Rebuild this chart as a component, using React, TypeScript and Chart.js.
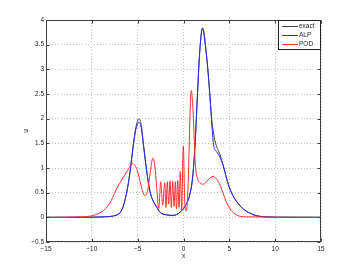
import React, { useEffect, useRef } from "react";
import { Chart, registerables } from "chart.js";

Chart.register(...registerables);

const exactX = [-15, -10, -9, -8, -7.6, -6.9, -6.55, -6.2, -5.85, -5.5, -5.2, -4.85, -4.6, -4.35, -4.0, -3.65, -3.3, -2.9, -2.55, -1.85, -1.1, -0.4, 0.15, 0.7, 1.0, 1.25, 1.5, 1.75, 2.05, 2.25, 2.4, 2.65, 2.9, 3.1, 3.44, 3.98, 4.34, 4.71, 5.07, 5.62, 6.35, 7.07, 8.0, 9.0, 10, 15];
const exactU = [0, 0.003, 0.008, 0.018, 0.03, 0.1, 0.24, 0.5, 0.9, 1.43, 1.82, 2.0, 1.86, 1.45, 0.92, 0.52, 0.33, 0.2, 0.1, 0.05, 0.04, 0.1, 0.22, 0.47, 0.82, 1.45, 2.4, 3.3, 3.82, 3.74, 3.5, 3.0, 2.4, 1.95, 1.55, 1.27, 1.05, 0.78, 0.57, 0.37, 0.2, 0.1, 0.03, 0.01, 0.003, 0];

const alpX = [-15, -10, -9, -8, -7.6, -6.9, -6.55, -6.2, -5.85, -5.5, -5.2, -4.85, -4.6, -4.35, -4.0, -3.65, -3.3, -2.9, -2.55, -1.85, -1.1, -0.4, 0.15, 0.7, 1.0, 1.25, 1.5, 1.75, 2.08, 2.34, 2.64, 2.89, 3.1, 3.3, 3.62, 3.98, 4.34, 4.71, 5.07, 5.62, 6.35, 7.07, 8.0, 9.0, 10, 15];
const alpU = [0, 0.003, 0.008, 0.018, 0.03, 0.1, 0.24, 0.5, 0.9, 1.42, 1.78, 1.93, 1.8, 1.43, 0.92, 0.52, 0.33, 0.2, 0.1, 0.05, 0.04, 0.1, 0.22, 0.47, 0.82, 1.45, 2.4, 3.3, 3.84, 3.54, 3.04, 2.45, 1.85, 1.45, 1.33, 1.22, 1.04, 0.78, 0.57, 0.37, 0.2, 0.1, 0.03, 0.01, 0.003, 0];

const podX = [-15, -11, -10, -9.5, -9, -8.5, -8, -7.5, -7, -6.5, -6, -5.6, -5.3, -5.0, -4.7, -4.4, -4.2, -3.9, -3.6, -3.35, -3.1, -2.9, -2.7, -2.49, -2.27, -2.05, -1.91, -1.77, -1.62, -1.47, -1.33, -1.18, -1.03, -0.89, -0.76, -0.63, -0.49, -0.35, -0.2, -0.02, 0.15, 0.3, 0.45, 0.6, 0.75, 0.85, 1.0, 1.1, 1.3, 1.5, 1.8, 2.15, 2.5, 2.9, 3.25, 3.6, 4.0, 4.3, 4.7, 5.2, 5.6, 6.0, 7, 15];
const podU = [0, 0.01, 0.03, 0.06, 0.1, 0.18, 0.3, 0.5, 0.68, 0.83, 0.98, 1.09, 1.05, 0.93, 0.7, 0.5, 0.44, 0.55, 0.95, 1.2, 1.0, 0.55, 0.18, 0.72, 0.25, 0.7, 0.2, 0.72, 0.27, 0.74, 0.2, 0.73, 0.22, 0.72, 0.17, 0.75, 0.2, 0.93, 0.15, 1.45, 0.25, 0.13, 0.4, 1.3, 2.3, 2.57, 2.3, 1.9, 1.05, 0.8, 0.7, 0.67, 0.72, 0.8, 0.83, 0.78, 0.65, 0.5, 0.3, 0.14, 0.07, 0.03, 0.01, 0];

const seriesLabels = ["exact", "ALP", "POD"];
const xTicksMin = -15, xTicksMax = 15, xStep = 5;
const yTicksMin = -0.5, yTicksMax = 4, yStep = 0.5;

const FONT = "Liberation Sans, Arial, Helvetica, sans-serif";
const fmt = (v: number) => (v < 0 ? "\u2212" + Math.abs(v) : String(v));

const framePlugin = {
  id: "frame",
  afterDatasetsDraw(chart: any) {
    const { ctx, chartArea: a, scales } = chart;
    ctx.save();
    ctx.strokeStyle = "#404040";
    ctx.lineWidth = 1;
    const L = Math.round(a.left) + 0.5, R = Math.round(a.right) - 0.5;
    const T = Math.round(a.top) + 0.5, B = Math.round(a.bottom) - 0.5;
    ctx.strokeRect(L, T, R - L, B - T);
    ctx.beginPath();
    scales.x.ticks.forEach((t: any) => {
      const p = Math.round(scales.x.getPixelForValue(t.value)) + 0.5;
      ctx.moveTo(p, B); ctx.lineTo(p, B - 3);
      ctx.moveTo(p, T); ctx.lineTo(p, T + 3);
    });
    scales.y.ticks.forEach((t: any) => {
      const p = Math.round(scales.y.getPixelForValue(t.value)) + 0.5;
      ctx.moveTo(L, p); ctx.lineTo(L + 3, p);
      ctx.moveTo(R, p); ctx.lineTo(R - 3, p);
    });
    ctx.stroke();

    // legend
    const bx = 278.5, by = 20.5, bw = 42, bh = 29;
    ctx.fillStyle = "#ffffff";
    ctx.fillRect(bx, by, bw, bh);
    ctx.strokeStyle = "#222222";
    ctx.strokeRect(bx, by, bw, bh);
    ctx.font = "6.5px " + FONT;
    ctx.textBaseline = "middle";
    ctx.textAlign = "left";
    chart.data.datasets.forEach((ds: any, i: number) => {
      const yy = 26 + i * 9;
      ctx.strokeStyle = ds.borderColor;
      ctx.lineWidth = 1;
      ctx.beginPath();
      ctx.moveTo(282, yy + 0.5);
      ctx.lineTo(298, yy + 0.5);
      ctx.stroke();
      ctx.fillStyle = "#222";
      ctx.fillText(ds.label, 299, yy + 0.5);
    });
    ctx.restore();
  },
};

export default function App() {
  const ref = useRef<HTMLCanvasElement>(null);
  useEffect(() => {
    if (!ref.current) return;
    const mk = (xs: number[], ys: number[]) => xs.map((x, i) => ({ x, y: ys[i] }));
    const chart = new Chart(ref.current, {
      type: "line",
      data: {
        datasets: [
          { label: seriesLabels[0], data: mk(exactX, exactU), borderColor: "rgb(70,70,70)", borderWidth: 1, pointRadius: 0, cubicInterpolationMode: "monotone", order: 3 },
          { label: seriesLabels[1], data: mk(alpX, alpU), borderColor: "rgb(40,40,235)", borderWidth: 1, pointRadius: 0, cubicInterpolationMode: "monotone", order: 2 },
          { label: seriesLabels[2], data: mk(podX, podU), borderColor: "rgb(255,45,45)", borderWidth: 1, pointRadius: 0, cubicInterpolationMode: "monotone", order: 1 },
        ],
      },
      options: {
        responsive: false,
        animation: false,
        devicePixelRatio: 1,
        layout: { padding: { left: 20, top: 20, right: 33, bottom: 11 } },
        plugins: { legend: { display: false }, tooltip: { enabled: false } },
        scales: {
          x: {
            type: "linear",
            min: xTicksMin,
            max: xTicksMax,
            grid: { color: "#c4c4c4", drawTicks: false, lineWidth: 1 },
            border: { display: false, dash: [1, 2] },
            ticks: { stepSize: xStep, autoSkip: false, maxRotation: 0, padding: 3, color: "#222", font: { family: FONT, size: 6.5 }, callback: (v: any) => fmt(Number(v)) },
            title: { display: true, text: "x", color: "#222", font: { family: FONT, size: 6.5 }, padding: { top: 0, bottom: 2 } },
            afterFit: (s: any) => { s.height = 20; },
          },
          y: {
            type: "linear",
            min: yTicksMin,
            max: yTicksMax,
            grid: { color: "#c4c4c4", drawTicks: false, lineWidth: 1 },
            border: { display: false, dash: [1, 2] },
            ticks: { stepSize: yStep, autoSkip: false, padding: 2, color: "#222", font: { family: FONT, size: 6.5 }, callback: (v: any) => fmt(Number(v)) },
            title: { display: true, text: "u", color: "#222", font: { family: FONT, size: 6.5 }, padding: { top: 2, bottom: 0 } },
            afterFit: (s: any) => { s.width = 26; },
          },
        },
      },
      plugins: [framePlugin],
    });
    return () => chart.destroy();
  }, []);
  return (
    <div style={{ position: "fixed", left: 0, top: 0, width: 354, height: 273, background: "#fff" }}>
      <canvas ref={ref} width={354} height={273} style={{ width: 354, height: 273 }} />
    </div>
  );
}
